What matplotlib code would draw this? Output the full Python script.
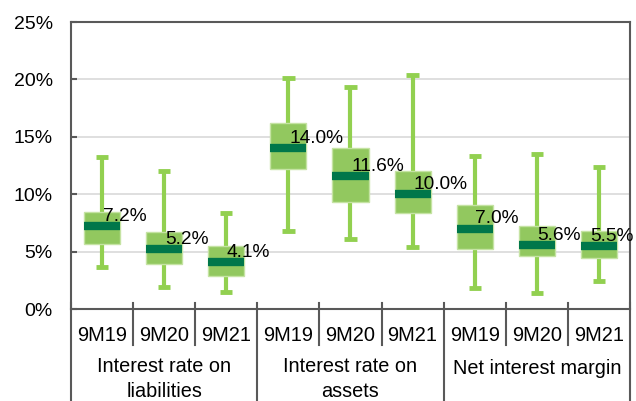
import matplotlib
matplotlib.use('Agg')
import matplotlib.pyplot as plt
from matplotlib.ticker import FuncFormatter

# ── data (percent) ────────────────────────────────────────────
periods   = ['9M19', '9M20', '9M21'] * 3
groups    = ['Interest rate on\nliabilities', 'Interest rate on\nassets', 'Net interest margin']
whis_low  = [3.7, 1.9, 1.5, 6.8, 6.1, 5.4, 1.8, 1.4, 2.4]
q1        = [5.7, 3.9, 2.9, 12.2, 9.3, 8.4, 5.2, 4.6, 4.4]
median    = [7.2, 5.2, 4.1, 14.0, 11.6, 10.0, 7.0, 5.6, 5.5]
q3        = [8.45, 6.7, 5.5, 16.2, 14.0, 12.0, 9.1, 7.2, 6.8]
whis_high = [13.2, 12.0, 8.4, 20.1, 19.3, 20.4, 13.3, 13.5, 12.4]

# ── colours ───────────────────────────────────────────────────
BOX    = '#92C85F'
WHISK  = '#92D050'
MED    = '#00774A'
AXIS   = '#595959'
GRID   = '#D9D9D9'

plt.rcParams['font.family'] = ['Liberation Sans', 'DejaVu Sans']

fig = plt.figure(figsize=(6.36, 4.01), dpi=100)
ax = fig.add_axes([0.1116, 0.2294, 0.879, 0.7157])

stats = [dict(whislo=lo, q1=a, med=m, q3=b, whishi=hi, fliers=[])
         for lo, a, m, b, hi in zip(whis_low, q1, median, q3, whis_high)]
pos = list(range(1, len(stats) + 1))

ax.bxp(stats, positions=pos, widths=0.58, patch_artist=True,
       showfliers=False, capwidths=0.2,
       boxprops=dict(facecolor=BOX, edgecolor='#C5E3A3', linewidth=1, zorder=3),
       whiskerprops=dict(color=WHISK, linewidth=3, solid_capstyle='butt', zorder=2),
       capprops=dict(color=WHISK, linewidth=3.5, solid_capstyle='butt', zorder=2),
       medianprops=dict(color=MED, linewidth=6, solid_capstyle='butt', zorder=4))

# ── axes styling ──────────────────────────────────────────────
ax.set_ylim(0, 25)
ax.set_xlim(0.5, 9.5)
ax.set_yticks([0, 5, 10, 15, 20, 25])
ax.yaxis.set_major_formatter(FuncFormatter(lambda v, _: f'{v:.0f}%'))
ax.tick_params(axis='y', direction='in', length=4, width=1.5, color=AXIS,
               labelsize=14, pad=13)
ax.set_xticks([])
ax.grid(axis='y', color=GRID, linewidth=1.2)
ax.set_axisbelow(True)
for s in ax.spines.values():
    s.set_color(AXIS)
    s.set_linewidth(1.5)

# median labels (pushed back inside the figure if they run off the right edge)
renderer = fig.canvas.get_renderer()
fig_w = fig.bbox.width
for p, m in zip(pos, median):
    lbl = ax.annotate(f'{m:.1f}%', (p, m), xytext=(0.5, 7), textcoords='offset points',
                      ha='left', va='center', fontsize=13.8, color='black', zorder=5,
                      annotation_clip=False)
    over = lbl.get_window_extent(renderer).x1 - (fig_w - 2)
    if over > 0:
        lbl.xyann = (0.5 - over * 72 / fig.dpi, 7)

# ── grouped category axis ─────────────────────────────────────
tr = ax.get_xaxis_transform()
for k in range(10):
    x = 0.5 + k
    y_end = -0.32 if k % 3 == 0 else -0.125
    ax.plot([x, x], [0.021, y_end], color=AXIS, lw=1.5, transform=tr, clip_on=False)

for p, lab in zip(pos, periods):
    ax.text(p, -0.0906, lab, transform=tr, ha='center', va='center', fontsize=14.4)

for g, name in enumerate(groups):
    yc = -0.244 if '\n' in name else -0.209
    ax.text(2 + 3 * g, yc, name, transform=tr, ha='center', va='center',
            fontsize=14.3, linespacing=1.35)

plt.savefig('out.png', dpi=100)
